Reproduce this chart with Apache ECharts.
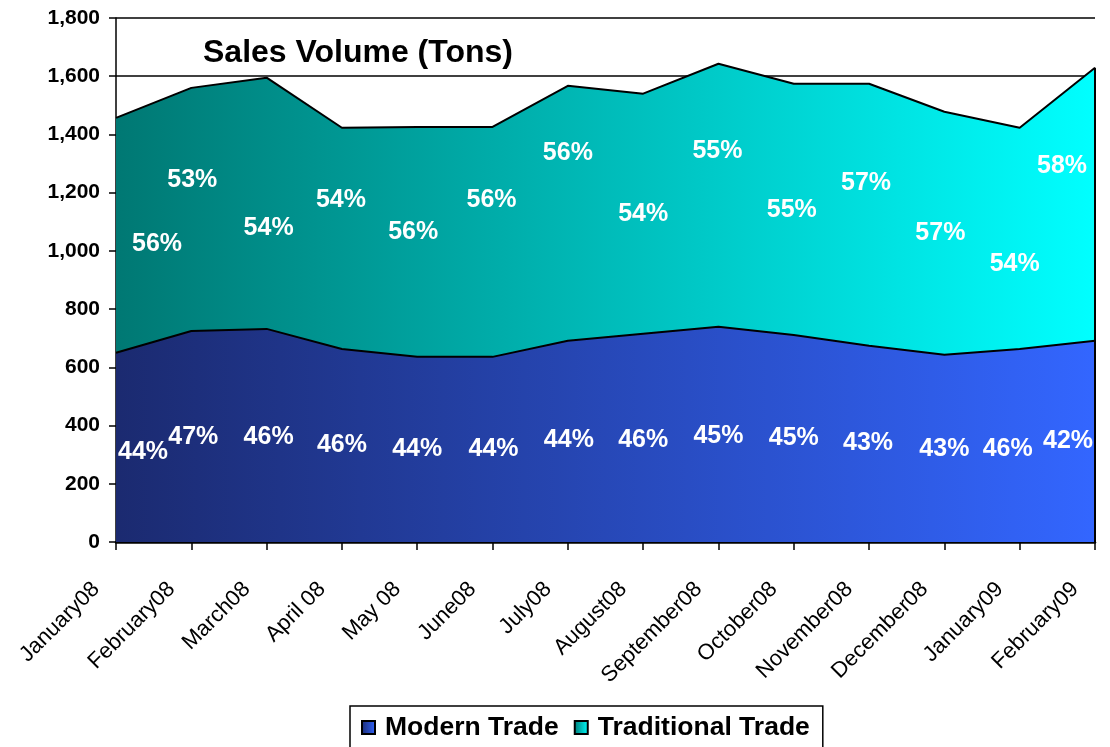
<!DOCTYPE html>
<html>
<head>
<meta charset="utf-8">
<script src="https://cdn.jsdelivr.net/npm/echarts@6/dist/echarts.min.js"></script>
<style>html,body{margin:0;padding:0;background:#fff;}#c{width:1110px;height:747px;}</style>
</head>
<body>
<div id="c"></div>
<script>
var categories = ['January08','February08','March08','April 08','May 08','June08','July08','August08','September08','October08','November08','December08','January09','February09'];
var modernTrade = [650, 725, 732, 663, 636, 636, 691, 715, 739, 711, 674, 643, 663, 691];
var traditionalTrade = [807, 835, 863, 760, 790, 790, 876, 825, 904, 863, 900, 835, 760, 938];
var modernPct = ['44%','47%','46%','46%','44%','44%','44%','46%','45%','45%','43%','43%','46%','42%'];
var traditionalPct = ['56%','53%','54%','54%','56%','56%','56%','54%','55%','55%','57%','57%','54%','58%'];
var yTicks = {min: 0, max: 1800, interval: 200};

// label anchor heights (data units) and horizontal nudges (px) for the percentage labels
var modernLabelY = [309, 361, 361, 333, 319, 319, 350, 350, 364, 357, 340, 319, 319, 347];
var modernLabelDx = [27, 2, 2, 0, 0, 1, 1, 0, 0, 0, -1, 0, -12, -27];
var tradLabelY = [1024, 1243, 1079, 1175, 1065, 1175, 1336, 1127, 1343, 1140, 1233, 1062, 955, 1292];
var tradLabelDx = [41, 1, 2, -1, -4, -1, 0, 0, -1, -2, -3, -4, -5, -33];

var FONT = "'Liberation Sans', Arial, sans-serif";
var chart = echarts.init(document.getElementById('c'));

var modernGrad = new echarts.graphic.LinearGradient(0, 0, 1, 0, [
  {offset: 0, color: '#1B2A70'}, {offset: 1, color: '#3366FF'}]);
var tradGrad = new echarts.graphic.LinearGradient(0, 0, 1, 0, [
  {offset: 0, color: '#007873'}, {offset: 1, color: '#00FFFF'}]);

function labelData(ys, dx, txt) {
  return ys.map(function (v, i) {
    return {value: [i, v], label: {offset: [dx[i], 0], formatter: txt[i]}};
  });
}

var last = categories.length - 1;
var lastTotal = modernTrade[last] + traditionalTrade[last];

var pctLabel = {show: true, position: 'inside', color: '#ffffff', fontSize: 25, fontWeight: 'bold', fontFamily: FONT, opacity: 1};

chart.setOption({
  animation: false,
  title: {
    text: 'Sales Volume (Tons)', left: 203, top: 37, padding: 0,
    textStyle: {fontSize: 32, fontWeight: 'bold', color: '#000', fontFamily: FONT}
  },
  legend: {
    data: ['Modern Trade', 'Traditional Trade'],
    left: 350, top: 706,
    padding: [8, 13, 14, 11],
    borderColor: '#000', borderWidth: 1.5,
    itemWidth: 13, itemHeight: 13, itemGap: 15,
    icon: 'rect',
    textStyle: {fontSize: 26.5, fontWeight: 'bold', color: '#000', fontFamily: FONT, padding: [0, 0, 0, 5]}
  },
  grid: {left: 116, right: 15, top: 18, bottom: 205, containLabel: false},
  xAxis: {
    type: 'category', data: categories, boundaryGap: false,
    axisLine: {lineStyle: {color: '#000', width: 2.5}},
    axisTick: {show: true, length: 8, lineStyle: {color: '#000', width: 1.5}},
    axisLabel: {rotate: 45, margin: 24, padding: [0, 28, 0, 0], fontSize: 22, color: '#000', fontFamily: FONT, interval: 0},
    splitLine: {show: false}
  },
  yAxis: {
    type: 'value', min: yTicks.min, max: yTicks.max, interval: yTicks.interval,
    axisLine: {show: true, lineStyle: {color: '#000', width: 1.5}},
    axisTick: {show: true, length: 7, lineStyle: {color: '#000', width: 1.5}},
    axisLabel: {margin: 16, fontSize: 21, fontWeight: 'bold', color: '#000', fontFamily: FONT,
      formatter: function (v) { return v.toLocaleString('en-US'); }},
    splitLine: {show: true, lineStyle: {color: '#000', width: 1.5}}
  },
  series: [
    {
      name: 'Modern Trade', type: 'line', stack: 'total', data: modernTrade,
      symbol: 'none', z: 2,
      lineStyle: {color: '#000', width: 2},
      itemStyle: {color: modernGrad, borderColor: '#000', borderWidth: 1},
      areaStyle: {color: modernGrad, opacity: 1}
    },
    {
      name: 'Traditional Trade', type: 'line', stack: 'total', data: traditionalTrade,
      symbol: 'none', z: 2,
      lineStyle: {color: '#000', width: 2},
      itemStyle: {color: tradGrad, borderColor: '#000', borderWidth: 1},
      areaStyle: {color: tradGrad, opacity: 1},
      markLine: {
        silent: true, symbol: ['none', 'none'], label: {show: false},
        lineStyle: {color: '#000', width: 2, type: 'solid'},
        data: [[{coord: [last, 0]}, {coord: [last, lastTotal]}]]
      }
    },
    {
      name: 'modernLabels', type: 'scatter', symbolSize: 0, z: 5, silent: true,
      itemStyle: {opacity: 1}, emphasis: {disabled: true},
      label: pctLabel, data: labelData(modernLabelY, modernLabelDx, modernPct)
    },
    {
      name: 'tradLabels', type: 'scatter', symbolSize: 0, z: 5, silent: true,
      itemStyle: {opacity: 1}, emphasis: {disabled: true},
      label: pctLabel, data: labelData(tradLabelY, tradLabelDx, traditionalPct)
    }
  ]
});
</script>
</body>
</html>
